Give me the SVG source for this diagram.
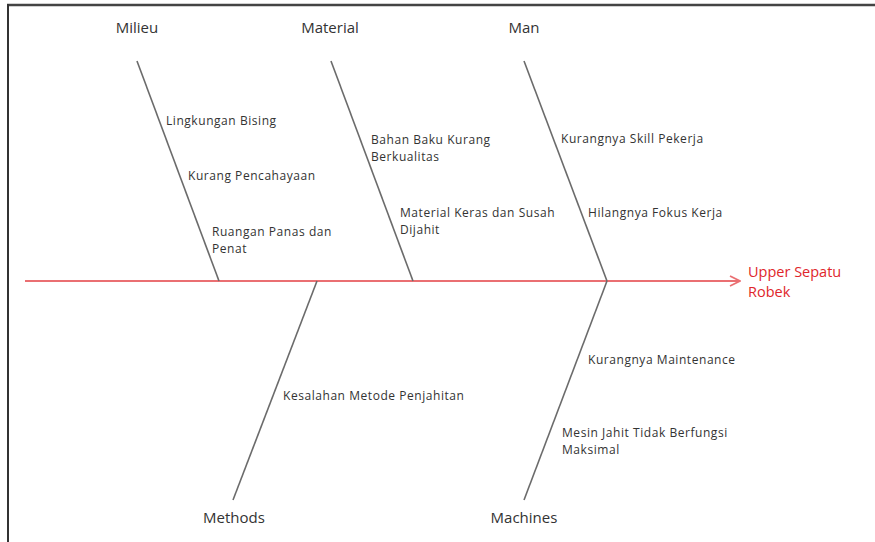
<svg xmlns="http://www.w3.org/2000/svg" width="875" height="542" viewBox="0 0 875 542">
<defs>
<style>
.cat{font-family:"Open Sans","Noto Sans","Liberation Sans",sans-serif;font-size:15px;fill:#333;text-anchor:middle}
.cause{font-family:"Open Sans","Noto Sans","Liberation Sans",sans-serif;font-size:12px;letter-spacing:0.55px;fill:#333}
.effect{font-family:"Open Sans","Noto Sans","Liberation Sans",sans-serif;font-size:14.5px;fill:#e0262b}
.bone{stroke:#6b6b6b;stroke-width:1.6;fill:none}
.spine{stroke:#ea6f72;stroke-width:2;fill:none}
</style>
<marker id="arr" viewBox="0 0 12 12" refX="11" refY="6" markerWidth="12" markerHeight="12" markerUnits="userSpaceOnUse" orient="auto">
<path d="M1,1 L11,6 L1,11" fill="none" stroke="#ea6f72" stroke-width="1.8"/>
</marker>
</defs>
<rect width="875" height="542" fill="#fff"/>
<g id="frame">
<line x1="7" y1="5" x2="875" y2="5" stroke="#444" stroke-width="2.5"/>
<line x1="8" y1="4" x2="8" y2="542" stroke="#333" stroke-width="2"/>
</g>
<g id="connectors">
<line class="spine" x1="25" y1="281" x2="740" y2="281" marker-end="url(#arr)"/>
<line class="bone" x1="137" y1="61" x2="219" y2="281"/>
<line class="bone" x1="331" y1="61" x2="413" y2="281"/>
<line class="bone" x1="524" y1="61" x2="607" y2="281"/>
<line class="bone" x1="317" y1="281" x2="233" y2="500"/>
<line class="bone" x1="607" y1="281" x2="524" y2="500"/>
</g>
<g id="effect">
<text class="effect" x="748" y="277">Upper Sepatu</text>
<text class="effect" x="748" y="297">Robek</text>
</g>
<g id="milieu">
<text class="cat" x="137" y="33">Milieu</text>
<text class="cause" x="166" y="125">Lingkungan Bising</text>
<text class="cause" x="188" y="180">Kurang Pencahayaan</text>
<text class="cause" x="212" y="236">Ruangan Panas dan</text>
<text class="cause" x="212" y="253">Penat</text>
</g>
<g id="material">
<text class="cat" x="330" y="33">Material</text>
<text class="cause" x="371" y="144">Bahan Baku Kurang</text>
<text class="cause" x="371" y="161">Berkualitas</text>
<text class="cause" x="400" y="217">Material Keras dan Susah</text>
<text class="cause" x="400" y="234">Dijahit</text>
</g>
<g id="man">
<text class="cat" x="524" y="33">Man</text>
<text class="cause" x="561" y="143">Kurangnya Skill Pekerja</text>
<text class="cause" x="588" y="217">Hilangnya Fokus Kerja</text>
</g>
<g id="methods">
<text class="cat" x="234" y="523">Methods</text>
<text class="cause" x="283" y="400">Kesalahan Metode Penjahitan</text>
</g>
<g id="machines">
<text class="cat" x="524" y="523">Machines</text>
<text class="cause" x="588" y="364">Kurangnya Maintenance</text>
<text class="cause" x="562" y="437">Mesin Jahit Tidak Berfungsi</text>
<text class="cause" x="562" y="454">Maksimal</text>
</g>
</svg>
